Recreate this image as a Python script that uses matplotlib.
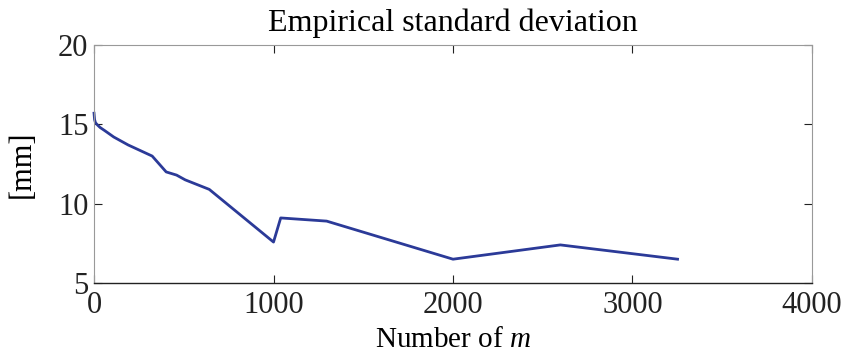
import matplotlib
matplotlib.use("Agg")
import matplotlib.pyplot as plt

plt.rcParams['font.family'] = ['Liberation Serif', 'DejaVu Serif']
plt.rcParams['mathtext.fontset'] = 'custom'
plt.rcParams['mathtext.rm'] = 'Liberation Serif'
plt.rcParams['mathtext.it'] = 'Liberation Serif:italic'

# empirical std vs number of samples
m_vals = [0, 3, 8, 20, 34, 60, 110, 190, 324, 402, 460, 508, 642, 1000, 1040, 1296, 2000, 2598, 3251]
std_vals = [15.7, 15.3, 15.1, 14.95, 14.8, 14.6, 14.2, 13.7, 13.0, 12.0, 11.8, 11.5, 10.9, 7.58, 9.1, 8.9, 6.5, 7.4, 6.5]

xticks = [0, 1000, 2000, 3000, 4000]
yticks = [5, 10, 15, 20]

fig = plt.figure(figsize=(8.41, 3.54), dpi=100)
ax = fig.add_axes([0.1118, 0.2006, 0.8537, 0.6723])

ax.plot(m_vals, std_vals, color='#2b3a98', linewidth=2.0, clip_on=False)

ax.set_xlim(0, 4000)
ax.set_ylim(5, 20)
ax.set_xticks(xticks)
ax.set_yticks(yticks)
ax.tick_params(direction='in', length=6, width=0.8, labelsize=22,
               top=True, right=True, colors='#222222')
ax.tick_params(axis='x', pad=6)
ax.tick_params(axis='y', pad=4)
for side in ['left', 'top', 'right']:
    ax.spines[side].set_color('#999999')
    ax.spines[side].set_linewidth(0.8)
ax.spines['bottom'].set_color('#222222')
ax.spines['bottom'].set_linewidth(1.0)

ax.set_title('Empirical standard deviation', fontsize=23, pad=10)
ax.set_xlabel('Number of $m$', fontsize=21, labelpad=5)
ax.set_ylabel('[mm]', fontsize=22, labelpad=15)

fig.savefig('out.png', dpi=100)
